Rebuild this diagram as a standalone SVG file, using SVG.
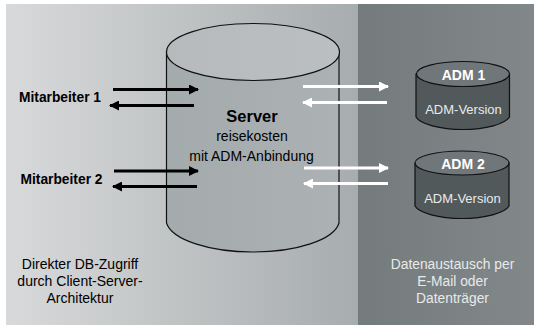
<svg xmlns="http://www.w3.org/2000/svg" width="534" height="325" viewBox="0 0 534 325">
<style>
text{font-family:"Liberation Sans",Arial,sans-serif;text-anchor:middle}
.k{fill:#000}.w{fill:#e8eaea}
.b{font-weight:bold}
.cyl{stroke:#111;stroke-width:1.2}
.ak{stroke:#000;stroke-width:3;fill:none}
.aw{stroke:#fff;stroke-width:3;fill:none}
</style>
<defs>
<linearGradient id="bg" x1="0" x2="1" y1="0" y2="0"><stop offset="0" stop-color="#d8d9da"/><stop offset=".45" stop-color="#c2c5c6"/><stop offset="1" stop-color="#a7acae"/></linearGradient>
<linearGradient id="dk" x1="0" x2="1" y1="0" y2="0"><stop offset="0" stop-color="#747b7d"/><stop offset="1" stop-color="#828889"/></linearGradient>
<linearGradient id="body" x1="0" x2="1" y1="0" y2="0"><stop offset="0" stop-color="#a4abad"/><stop offset="1" stop-color="#acb1b3"/></linearGradient>
<linearGradient id="top" x1="0" x2="1" y1="0" y2="0"><stop offset="0" stop-color="#b6babc"/><stop offset="1" stop-color="#bcbfc1"/></linearGradient>
<marker id="hk" markerUnits="userSpaceOnUse" markerWidth="10" markerHeight="10" refX="9" refY="5" orient="auto"><path d="M0 0L10 5L0 10Z" fill="#000"/></marker>
<marker id="hw" markerUnits="userSpaceOnUse" markerWidth="10" markerHeight="10" refX="9" refY="5" orient="auto"><path d="M0 0L10 5L0 10Z" fill="#fff"/></marker>
</defs>
<rect width="534" height="325" fill="#fff"/>
<rect x="6" y="4" width="352" height="321" fill="url(#bg)"/>
<rect x="358" y="4" width="176" height="321" fill="url(#dk)"/>
<g id="server">
<path class="cyl" fill="url(#body)" d="M166.500 52V223C172 240 210 252 253 252S334 240 339 223V52Z"/>
<ellipse class="cyl" fill="url(#top)" cx="253" cy="52" rx="86.500" ry="28.500"/>
<text class="k b" x="252" y="122" font-size="16.500">Server</text>
<text class="k" x="252" y="141" font-size="14">reisekosten</text>
<text class="k" x="251.500" y="161" font-size="14">mit ADM-Anbindung</text>
</g>
<g id="adm1">
<path class="cyl" fill="#52595b" d="M416 74V117C420 124 440 129.500 463 129.500S505 124 509.500 117V74Z"/>
<ellipse class="cyl" fill="#70777a" cx="463" cy="74" rx="46.500" ry="12.500"/>
<text class="w b" x="463.500" y="80" font-size="14" style="fill:#fff">ADM 1</text>
<text class="w" x="463.500" y="114" font-size="13">ADM-Version</text>
</g>
<g id="adm2">
<path class="cyl" fill="#52595b" d="M415 163V206C419 213 439 218.500 462 218.500S505 213 509 206V163Z"/>
<ellipse class="cyl" fill="#70777a" cx="462" cy="163" rx="47" ry="12"/>
<text class="w b" x="463" y="169" font-size="14" style="fill:#fff">ADM 2</text>
<text class="w" x="462.500" y="203" font-size="13">ADM-Version</text>
</g>
<g id="mitarbeiter1"><text class="k b" x="60" y="102" font-size="13.800">Mitarbeiter 1</text></g>
<g id="mitarbeiter2"><text class="k b" x="61.500" y="184" font-size="13.800">Mitarbeiter 2</text></g>
<g id="note-left"><text class="k" x="80" y="269" font-size="14">Direkter DB-Zugriff</text>
<text class="k" x="80" y="286" font-size="14">durch Client-Server-</text>
<text class="k" x="80" y="303" font-size="14">Architektur</text></g>
<g id="note-right"><text class="w" x="452.500" y="269" font-size="13.800">Datenaustausch per</text>
<text class="w" x="452.500" y="286" font-size="13.800">E-Mail oder</text>
<text class="w" x="452.500" y="303" font-size="13.800">Datenträger</text></g>
<g id="connectors">
<path class="ak" marker-end="url(#hk)" d="M113 89.500H198"/>
<path class="ak" marker-end="url(#hk)" d="M194 105.500H110"/>
<path class="ak" marker-end="url(#hk)" d="M114 171H198"/>
<path class="ak" marker-end="url(#hk)" d="M197 186.500H113"/>
<path class="aw" marker-end="url(#hw)" d="M303 86.500H388"/>
<path class="aw" marker-end="url(#hw)" d="M387 102.500H303"/>
<path class="aw" marker-end="url(#hw)" d="M304 168H388"/>
<path class="aw" marker-end="url(#hw)" d="M388 183.500H304"/>
</g>
</svg>
